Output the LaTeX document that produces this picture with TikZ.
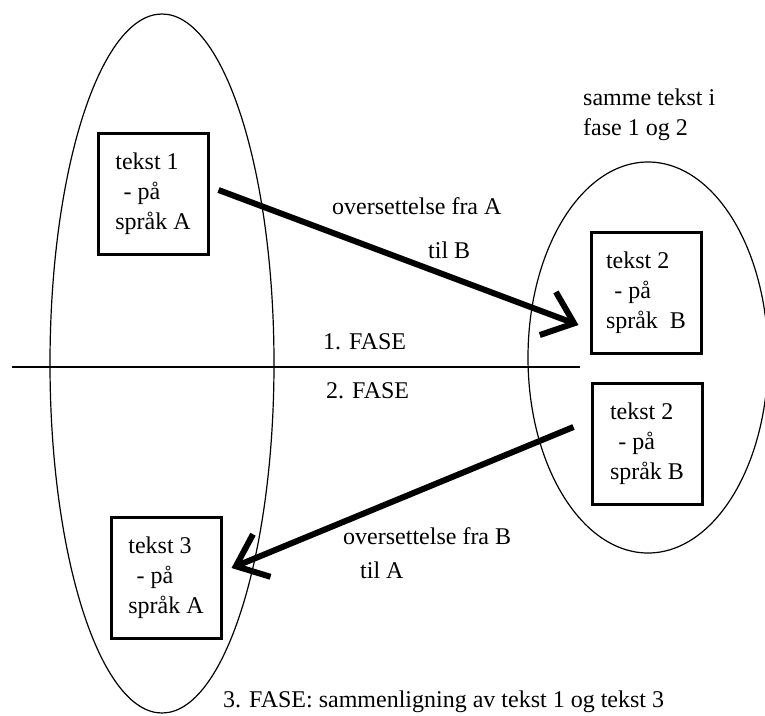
\documentclass[tikz,border=0pt]{standalone}
\usepackage{fontspec}
\setmainfont{Liberation Serif}
\usetikzlibrary{arrows.meta}
\begin{document}
\begin{tikzpicture}[x=1pt, y=-1pt,
    text box/.style={rectangle, draw, line width=3pt, minimum width=110pt, minimum height=121pt, align=left},
    big arrow/.style={-{Straight Barb[length=28pt,width=46pt]}, line width=6pt},
    phase text/.style={anchor=base west}]
        \tikzstyle{every node}=[font=\fontsize{24}{30}\selectfont, inner sep=0pt]
        \useasboundingbox (0,0) rectangle (765,715);

          % language groups and phase line
          \draw[line width=1.2pt] (162,363.5) ellipse [x radius=112pt, y radius=349.5pt];
          \draw[line width=1.2pt] (648,357.5) ellipse [x radius=120pt, y radius=195.5pt];
          \draw[line width=2.5pt] (12,367) -- (580,367);

          \node[text box] (t1) at (153,193.5) {tekst 1\\\hspace*{0.35em}- på\\språk A};
          \node[text box] (t2) at (646,292.5) {tekst 2\\\hspace*{0.35em}- på\\språk\ \ B};
          \node[text box] (t2b) at (647,444) {tekst 2\\\hspace*{0.35em}- på\\språk B};
          \node[text box] (t3) at (166,578) {tekst 3\\\hspace*{0.35em}- på\\språk A};

          \node[phase text] (same1) at (583,105) {samme tekst i};
          \node[phase text] (same2) at (583,135) {fase 1 og 2};
          \node[phase text] (ab1) at (332,214) {oversettelse fra A};
          \node[phase text] (ab2) at (428,258) {til B};
          \node[phase text] (f1) at (323,349) {1. FASE};
          \node[phase text] (f2) at (326,398) {2. FASE};
          \node[phase text] (ba1) at (343,544) {oversettelse fra B};
          \node[phase text] (ba2) at (360,578) {til A};
          \node[phase text] (f3) at (223,707) {3. FASE: sammenligning av tekst 1 og tekst 3};

          \draw[big arrow] ([xshift=9pt,yshift=3.5pt]t1.east) -- ([xshift=-11pt,yshift=-32.5pt]t2.west);
          \draw[big arrow] ([xshift=-17pt,yshift=17pt]t2b.west) -- ([xshift=9pt,yshift=10pt]t3.east);

        \end{tikzpicture}
\end{document}
